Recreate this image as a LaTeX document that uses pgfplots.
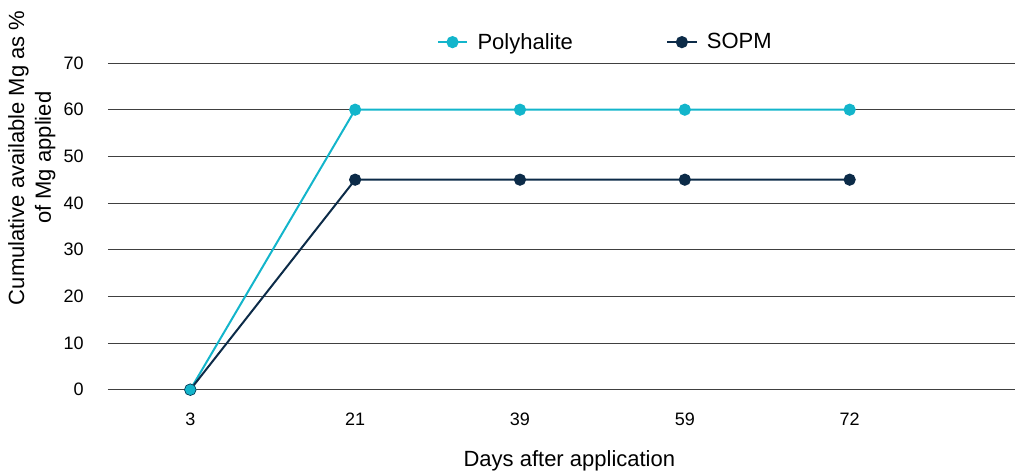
\documentclass[border=0pt]{standalone}
\usepackage{fontspec}
\setmainfont{Liberation Sans}
\usepackage{pgfplots}
\pgfplotsset{compat=1.18}

\definecolor{polycyan}{HTML}{13B5CB}
\definecolor{sopmnavy}{HTML}{0C2B48}
\definecolor{gridgray}{HTML}{404040}

\begin{document}
\begin{tikzpicture}
\begin{axis}[
    scale only axis,
    width=680pt, height=245pt,
    xmin=-0.5, xmax=5,
    ymin=0, ymax=70,
    ytick={0,10,...,70},
    xtick={0,1,2,3,4},
    xticklabels={3,21,39,59,72},
    major tick length=0pt,
    axis x line*=bottom,
    axis y line*=left,
    x axis line style={draw=gridgray, line width=0.75pt, -},
    y axis line style={draw=none},
    ymajorgrids,
    grid style={draw=gridgray, line width=0.75pt},
    clip=false,
    /pgf/number format/assume math mode=true,
    ticklabel style={font=\fontsize{13.5}{16}\selectfont},
    yticklabel style={anchor=east, inner sep=0pt, xshift=-18pt},
    xticklabel style={anchor=north, inner sep=0pt, yshift=-17pt},
    xlabel={Days after application},
    xlabel style={font=\fontsize{16.5}{20}\selectfont, at={(axis description cs:0.509,0)}, anchor=center, yshift=-53pt},
    ylabel={Cumulative available Mg as \%\\of Mg applied},
    ylabel style={font=\fontsize{16.5}{20}\selectfont, align=center, at={(axis description cs:-0.084,0.71)}, anchor=center},
    legend columns=2,
    legend style={draw=none, fill=none, at={(axis description cs:0.549,1.064)}, anchor=center,
        font=\fontsize{16.5}{20}\selectfont,
        /tikz/every odd column/.append style={column sep=5pt},
        /tikz/every even column/.append style={column sep=68pt}},
    legend image code/.code={
        \draw[mark repeat=2, mark phase=2] plot coordinates {(0pt,0pt) (11pt,0pt) (22pt,0pt)};
    },
]
\addplot[color=polycyan, line width=1.5pt, mark=*, mark size=3.8pt, mark options={fill=polycyan, draw=polycyan}]
    coordinates {(0,0) (1,60) (2,60) (3,60) (4,60)};
\addlegendentry{Polyhalite}
\addplot[color=sopmnavy, line width=1.5pt, mark=*, mark size=3.8pt, mark options={fill=sopmnavy, draw=sopmnavy}]
    coordinates {(0,0) (1,45) (2,45) (3,45) (4,45)};
\addlegendentry{SOPM}
% cyan start point drawn on top, as in the reference
\addplot[only marks, mark=*, mark size=3.8pt, mark options={fill=polycyan, draw=polycyan}, forget plot]
    coordinates {(0,0)};
% page margins as in the reference
\path (rel axis cs:-0.119,-0.251) (rel axis cs:1,1.193);
\end{axis}
\end{tikzpicture}
\end{document}
